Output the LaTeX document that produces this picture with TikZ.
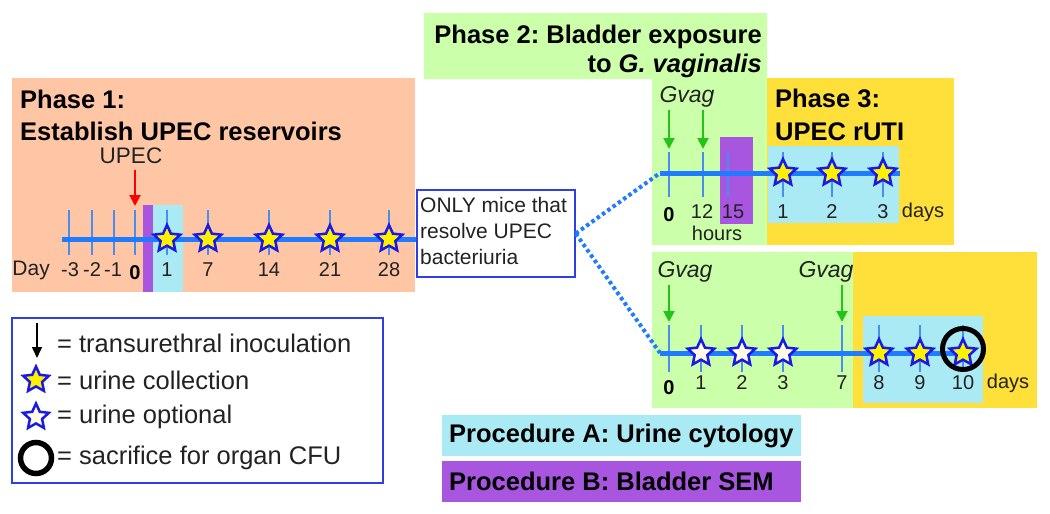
\documentclass[tikz,border=0pt]{standalone}
\usepackage{fontspec}
\setmainfont{Liberation Sans}
\usetikzlibrary{shapes.geometric,arrows.meta}
\frenchspacing
\definecolor{salmon}{HTML}{FFC6A5}
\definecolor{pgreen}{HTML}{CCFFAA}
\definecolor{pyellow}{HTML}{FFE03A}
\definecolor{pcyan}{HTML}{AAEAF5}
\definecolor{ppurple}{HTML}{A855E0}
\definecolor{tlblue}{HTML}{1F7BFF}
\definecolor{tkblue}{HTML}{4A8DF0}
\definecolor{stblue}{HTML}{1A1AE6}
\definecolor{bxblue}{HTML}{2E3FE8}
\definecolor{gar}{HTML}{22C41A}
\definecolor{wfill}{HTML}{FFFBE6}
\definecolor{txt}{HTML}{222222}
\tikzset{
  tl/.style={tlblue, line width=5pt},
  tickln/.style={tkblue, line width=2pt},
  ystar/.style={star, star points=5, star point ratio=2.1, minimum size=28pt, inner sep=0pt, draw=stblue, line width=2.5pt, fill=yellow},
  wstar/.style={ystar, fill=wfill},
  lab/.style={font=\fontsize{20}{22}\selectfont, text=txt, inner sep=0pt},
  blab/.style={font=\fontsize{20}{22}\selectfont\bfseries, text=black, inner sep=0pt},
  title/.style={font=\fontsize{25.5}{28}\selectfont\bfseries, text=black, inner sep=0pt},
  legt/.style={font=\fontsize{25.5}{27}\selectfont, text=txt, inner sep=0pt, anchor=west},
  garr/.style={-{Triangle[length=11pt,width=11pt]}, gar, line width=2pt},
  dots/.style={tlblue, line width=4pt, dash pattern=on 3.5pt off 3pt},
  gv/.style={font=\fontsize{23}{24}\selectfont\itshape, text=txt, inner sep=0pt},
}
\begin{document}
\begin{tikzpicture}[x=1pt,y=-1pt]
\useasboundingbox (0,0) rectangle (1050,514);
% ---------- Phase 1 ----------
\fill[salmon] (12,78) rectangle (415,292);
\fill[ppurple] (143,205) rectangle (153,292);
\fill[pcyan] (153,205) rectangle (183,292);
\node[title, anchor=base west] (p1a) at (20,108) {Phase 1:};
\node[title, anchor=base west] (p1b) at (20,140) {Establish UPEC reservoirs};
\node[lab, font=\fontsize{22.5}{24}\selectfont] (upec) at (131,156) {UPEC};
\coordinate (ra1) at (135,170);
\coordinate (ra2) at (135,206);
\draw[-{Triangle[length=11pt,width=11pt]}, red, line width=2pt] (ra1) -- (ra2);
% ONLY box
\node[draw=bxblue, line width=1.5pt, fill=white, minimum width=158pt, minimum height=87pt, inner sep=0pt] (only) at (496,233.5) {};
\node[lab, align=left, font=\fontsize{21}{26}\selectfont, anchor=north west] (onlyt) at (420,197) {ONLY mice that\\resolve UPEC\\bacteriuria};
\coordinate (t1s) at (62,239);
\foreach \x in {69,92,114,135,167,208,269,330,389} \draw[tickln] (\x,210) -- (\x,255);
\draw[tl] (t1s) -- (t1s -| only.west);
\foreach \x/\n in {167/a,208/b,269/c,330/d,389/e} \node[ystar] (s1\n) at (\x,239) {};
\node[lab, font=\fontsize{21}{22}\selectfont, anchor=east] (day) at (50,270) {Day};
\foreach \x/\t/\n in {70/-3/a,92/-2/b,113/-1/c,167/1/d,208/7/e,269/14/f,330/21/g,389/28/h}
  \node[lab] (l1\n) at (\x,270) {\t};
\node[blab] (l1z) at (135,273) {0};
% ---------- Phase 2 / 3 top ----------
\fill[pgreen] (424,13) -- (767,13) -- (767,245) -- (652,245) -- (652,79) -- (424,79) -- cycle;
\fill[pyellow] (767,78) rectangle (954,245);
\fill[ppurple] (720,137) rectangle (753,224);
\fill[pcyan] (768,146) rectangle (899,223);
\node[title, anchor=base east] (p2a) at (762,43) {Phase 2: Bladder exposure};
\node[title, anchor=base east] (p2b) at (762,72) {to \textit{G. vaginalis}};
\node[title, anchor=base west] (p3a) at (775,107) {Phase 3:};
\node[title, anchor=base west] (p3b) at (775,140) {UPEC rUTI};
\node[gv] (gv1) at (687,97) {Gvag};
\coordinate (g1a) at (669,110); \coordinate (g1b) at (669,149);
\coordinate (g2a) at (703,110); \coordinate (g2b) at (703,149);
\draw[garr] (g1a) -- (g1b);
\draw[garr] (g2a) -- (g2b);
\coordinate (t2s) at (660,173);
\coordinate (t2e) at (900,173);
\foreach \x in {669,703,728,783,832,883} \draw[tickln] (\x,152) -- (\x,197);
\draw[tl] (t2s) -- (t2e);
\foreach \x/\n in {783/a,832/b,883/c} \node[ystar] (s2\n) at (\x,173) {};
\node[blab] (l2z) at (669,215) {0};
\foreach \x/\t/\n in {702/12/a,733/15/b,783/1/c,832/2/d,883/3/e}
  \node[lab] (l2\n) at (\x,212) {\t};
\node[lab] (days2) at (923,212) {days};
\node[lab] (hours) at (717,233) {hours};
% ---------- bottom ----------
\fill[pgreen] (652,252) rectangle (853,408);
\fill[pyellow] (853,252) rectangle (1037,408);
\fill[pcyan] (863,316) rectangle (983,403);
\node[gv] (gv2) at (685,272) {Gvag};
\node[gv] (gv3) at (826,272) {Gvag};
\coordinate (g3a) at (669,285); \coordinate (g3b) at (669,322);
\coordinate (g4a) at (842,285); \coordinate (g4b) at (842,322);
\draw[garr] (g3a) -- (g3b);
\draw[garr] (g4a) -- (g4b);
\coordinate (t3s) at (660,353);
\coordinate (t3e) at (960,353);
\foreach \x in {669,701,742,783,842,879,920,963} \draw[tickln] (\x,325) -- (\x,372);
\draw[tl] (t3s) -- (t3e);
\foreach \x/\n in {701/a,742/b,783/c} \node[wstar] (s3\n) at (\x,353) {};
\foreach \x/\n in {879/d,920/e,963/f} \node[ystar] (s3\n) at (\x,353) {};
\node[circle, draw=black, line width=5pt, minimum size=41pt, inner sep=0pt] (sac) at (963,349) {};
\node[blab] (l3z) at (669,388) {0};
\foreach \x/\t/\n in {701/1/a,742/2/b,783/3/c,842/7/d,879/8/e,920/9/f,963/10/g}
  \node[lab] (l3\n) at (\x,383) {\t};
\node[lab] (days3) at (1008,383) {days};
% dotted connectors
\draw[dots] (only.east) -- (t2s);
\draw[dots] (only.east) -- (t3s);
% ---------- legend ----------
\node[draw=bxblue, line width=1.5pt, minimum width=371pt, minimum height=165pt, inner sep=0pt] (leg) at (197.5,400.5) {};
\coordinate (la1) at (37,323); \coordinate (la2) at (37,358);
\draw[-{Triangle[length=11pt,width=10pt]}, black, line width=1.5pt] (la1) -- (la2);
\node[legt] (lt1) at (57,343) {= transurethral inoculation};
\node[ystar, minimum size=27pt] (ls1) at (36,380) {};
\node[legt] (lt2) at (57,380) {= urine collection};
\node[wstar, minimum size=27pt] (ls2) at (36,417) {};
\node[legt] (lt3) at (57,417) {= urine optional};
\node[circle, draw=black, line width=5.5pt, minimum size=31pt, inner sep=0pt] (lc) at (36,458) {};
\node[legt] (lt4) at (57,458) {= sacrifice for organ CFU};
% ---------- procedures ----------
\fill[pcyan] (442,415) rectangle (801,456);
\fill[ppurple] (442,461) rectangle (801,502);
\node[title, anchor=west] (pa) at (449,435.5) {Procedure A: Urine cytology};
\node[title, anchor=west] (pb) at (449,481.5) {Procedure B: Bladder SEM};
\end{tikzpicture}
\end{document}
